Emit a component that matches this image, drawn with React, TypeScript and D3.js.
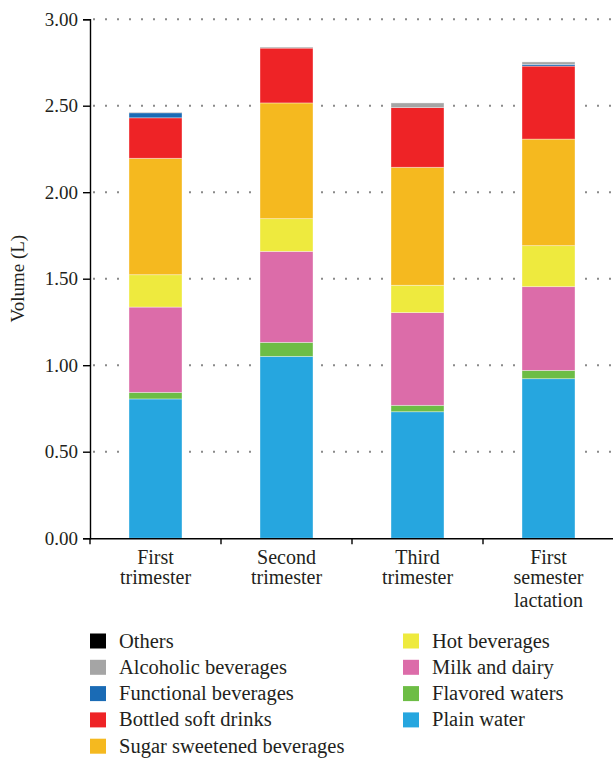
import React, { useEffect, useRef } from "react";
import { select, scaleBand, scaleLinear, stack, axisLeft, axisBottom, range } from "d3";

const categories = ["First trimester", "Second trimester", "Third trimester", "First semester lactation"];
const categoryLines = [["First", "trimester"], ["Second", "trimester"], ["Third", "trimester"], ["First", "semester", "lactation"]];

const plainWater = [0.805, 1.051, 0.731, 0.922];
const flavoredWaters = [0.038, 0.081, 0.037, 0.048];
const milkDairy = [0.493, 0.526, 0.536, 0.484];
const hotBeverages = [0.187, 0.189, 0.158, 0.237];
const sugarSweetened = [0.673, 0.669, 0.682, 0.616];
const bottledSoft = [0.234, 0.317, 0.345, 0.422];
const functionalBev = [0.029, 0.0, 0.0, 0.01];
const alcoholicBev = [0.004, 0.006, 0.027, 0.014];
const others = [0, 0, 0, 0];

const seriesNames = [
  "Plain water",
  "Flavored waters",
  "Milk and dairy",
  "Hot beverages",
  "Sugar sweetened beverages",
  "Bottled soft drinks",
  "Functional beverages",
  "Alcoholic beverages",
  "Others",
];
const seriesValues = [plainWater, flavoredWaters, milkDairy, hotBeverages, sugarSweetened, bottledSoft, functionalBev, alcoholicBev, others];
const colors: any = {
  "Plain water": "#26a6df",
  "Flavored waters": "#6dbd45",
  "Milk and dairy": "#dc6ca9",
  "Hot beverages": "#eeea3e",
  "Sugar sweetened beverages": "#f5b91f",
  "Bottled soft drinks": "#ee2326",
  "Functional beverages": "#1a6bb5",
  "Alcoholic beverages": "#a5a5a5",
  "Others": "#000000",
};
const legendLeft = ["Others", "Alcoholic beverages", "Functional beverages", "Bottled soft drinks", "Sugar sweetened beverages"];
const legendRight = ["Hot beverages", "Milk and dairy", "Flavored waters", "Plain water"];
const yTicks = [0, 0.5, 1, 1.5, 2, 2.5, 3];

const font = "'Liberation Serif', 'DejaVu Serif', serif";

export default function App() {
  const svgRef: any = useRef();

  useEffect(() => {
    const svg = select(svgRef.current);
    svg.selectAll("*").remove();

    const left = 90, right = 614, y0 = 538.2, y3 = 19.2;
    const x = scaleBand().domain(categories).range([left, right]).padding(0);
    const y = scaleLinear().domain([0, 3]).range([y0, y3]);
    const barW = 53;

    const data = categories.map((c, i) => {
      const row: any = { name: c };
      seriesNames.forEach((s, j) => (row[s] = seriesValues[j][i]));
      return row;
    });
    const layers = stack().keys(seriesNames)(data);

    // dotted grid
    const grid = svg.append("g");
    yTicks.filter((t) => t > 0).forEach((t) => {
      grid
        .append("line")
        .attr("x1", left + 3)
        .attr("x2", right)
        .attr("y1", y(t))
        .attr("y2", y(t))
        .attr("stroke", "#8a8a8a")
        .attr("stroke-width", 2)
        .attr("stroke-dasharray", "2,10");
    });

    svg
      .append("g")
      .selectAll("g")
      .data(layers)
      .join("g")
      .attr("fill", (l: any) => colors[l.key])
      .selectAll("rect")
      .data((l: any) => l)
      .join("rect")
      .attr("x", (d: any) => (x(d.data.name) as number) + x.bandwidth() / 2 - barW / 2)
      .attr("width", barW)
      .attr("y", (d: any) => y(d[1]))
      .attr("height", (d: any) => Math.max(0, y(d[0]) - y(d[1])))
      .attr("stroke", "#ffffff")
      .attr("stroke-opacity", 0.45)
      .attr("stroke-width", (d: any) => (y(d[0]) - y(d[1]) > 0.5 ? 0.8 : 0));

    // axes
    const ya = svg
      .append("g")
      .attr("transform", `translate(${left},0)`)
      .call(axisLeft(y).tickValues(yTicks).tickFormat((d: any) => d.toFixed(2)).tickSize(7).tickPadding(5));
    ya.select(".domain").attr("stroke", "#000").attr("stroke-width", 1.4);
    ya.selectAll(".tick line").attr("stroke-width", 1.4);
    ya.selectAll(".tick text").attr("font-family", font).attr("font-size", 19).attr("fill", "#231f20");

    const xa = svg
      .append("g")
      .attr("transform", `translate(0,${y0})`)
      .call(axisBottom(x).tickValues([]).tickSizeOuter(0));
    xa.select(".domain").attr("stroke", "#000").attr("stroke-width", 1.4);
    range(categories.length).forEach((i) => {
      const xv = (x(categories[i]) as number);
      xa.append("line").attr("x1", xv).attr("x2", xv).attr("y1", 0).attr("y2", 6).attr("stroke", "#000").attr("stroke-width", 1.4);
    });

    const lineY = [564, 584, 607];
    categories.forEach((c, i) => {
      const cx = (x(c) as number) + x.bandwidth() / 2;
      categoryLines[i].forEach((ln, k) => {
        svg
          .append("text")
          .attr("x", cx)
          .attr("y", lineY[k])
          .attr("text-anchor", "middle")
          .attr("font-family", font)
          .attr("font-size", 20)
          .attr("fill", "#231f20")
          .text(ln);
      });
    });

    svg
      .append("text")
      .attr("transform", `translate(24,${(y0 + y3) / 2}) rotate(-90)`)
      .attr("text-anchor", "middle")
      .attr("font-family", font)
      .attr("font-size", 19)
      .attr("fill", "#231f20")
      .text("Volume (L)");

    // legend
    const drawLegend = (items: string[], lx: number) => {
      items.forEach((name, i) => {
        const cy = 641 + i * 26.3;
        svg.append("rect").attr("x", lx).attr("y", cy - 7.5).attr("width", 16).attr("height", 15).attr("fill", colors[name]);
        svg
          .append("text")
          .attr("x", lx + 29)
          .attr("y", cy + 6.5)
          .attr("font-family", font)
          .attr("font-size", 20.5)
          .attr("fill", "#231f20")
          .text(name);
      });
    };
    drawLegend(legendLeft, 90);
    drawLegend(legendRight, 403);
  }, []);

  return (
    <div style={{ position: "absolute", left: 0, top: 0 }}>
      <svg ref={svgRef} width={613} height={761} style={{ display: "block" }} />
    </div>
  );
}
